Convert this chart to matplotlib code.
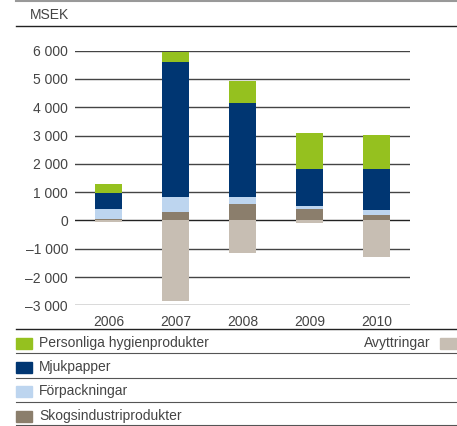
import matplotlib
matplotlib.use('Agg')
import matplotlib.pyplot as plt
from matplotlib.lines import Line2D
from matplotlib.patches import Rectangle
import numpy as np

# data (MSEK)
years = ['2006', '2007', '2008', '2009', '2010']
skog = [45, 293, 575, 400, 188]
forpack = [360, 530, 247, 105, 177]
mjuk = [575, 4765, 3329, 1306, 1446]
hygien = [305, 365, 776, 1270, 1200]
avyttring = [-50, -2838, -1155, -95, -1295]
yticks = [-3000, -2000, -1000, 0, 1000, 2000, 3000, 4000, 5000, 6000]

c_hyg = '#95c11f'
c_mjuk = '#003672'
c_forp = '#bdd5ef'
c_skog = '#8b7e6c'
c_avy = '#c7beb3'
txt = '#444444'
fs = 10

plt.rcParams['font.family'] = ['Liberation Sans', 'DejaVu Sans']

W, H = 457, 426
fig = plt.figure(figsize=(W / 100, H / 100), dpi=100)

def fx(px):
    return px / W

def fy(py):
    return 1 - py / H

ax = fig.add_axes([fx(75), fy(305.3), fx(410) - fx(75), fy(50.7) - fy(305.3)])
x = np.arange(len(years))
w = 0.4
b = np.zeros(len(years))
for vals, col in [(skog, c_skog), (forpack, c_forp), (mjuk, c_mjuk), (hygien, c_hyg)]:
    ax.bar(x, vals, w, bottom=b, color=col, zorder=3)
    b = b + np.array(vals)
ax.bar(x, avyttring, w, color=c_avy, zorder=3)

ax.set_xlim(-0.5, 4.5)
ax.set_ylim(-3000, 6000)
for t in yticks:
    ax.axhline(t, color='#222222' if t == 0 else '#444444', lw=1.0, zorder=2)
ax.set_yticks(yticks)
ax.set_yticklabels([f'{t:,}'.replace(',', ' ').replace('-', '\u2013') for t in yticks])
ax.set_xticks(x)
ax.set_xticklabels(years)
ax.tick_params(length=0, labelsize=fs, labelcolor=txt, pad=5)
ax.tick_params(axis='x', pad=7)
for s in ax.spines.values():
    s.set_visible(False)

# header
fig.add_artist(Line2D([fx(16), 1], [fy(1), fy(1)], color='#999999', lw=1.5))
fig.text(fx(30), fy(15), 'MSEK', fontsize=fs, color=txt, va='center')
fig.add_artist(Line2D([fx(16), 1], [fy(26), fy(26)], color='#222222', lw=1))
fig.add_artist(Line2D([fx(16), 1], [fy(329), fy(329)], color='#222222', lw=1))

# legend
legend_rows = [('Personliga hygienprodukter', c_hyg), ('Mjukpapper', c_mjuk),
               ('Förpackningar', c_forp), ('Skogsindustriprodukter', c_skog)]
row_y = [343, 367.5, 391.5, 416]
line_y = [353, 377.5, 401.5, 425]
for (label, col), yy, ly in zip(legend_rows, row_y, line_y):
    fig.add_artist(Rectangle((fx(16), fy(yy + 5.5)), fx(16), fy(yy - 5.5) - fy(yy + 5.5),
                             color=col, transform=fig.transFigure))
    fig.text(fx(39), fy(yy), label, fontsize=fs, color=txt, va='center')
    fig.add_artist(Line2D([fx(16), 1], [fy(ly), fy(ly)], color='#555555', lw=0.8))
fig.add_artist(Rectangle((fx(440), fy(348.5)), fx(17), fy(337.5) - fy(348.5),
                         color=c_avy, transform=fig.transFigure))
fig.text(fx(431), fy(343), 'Avyttringar', fontsize=fs, color=txt, va='center', ha='right')

fig.savefig('out.png', dpi=100)
